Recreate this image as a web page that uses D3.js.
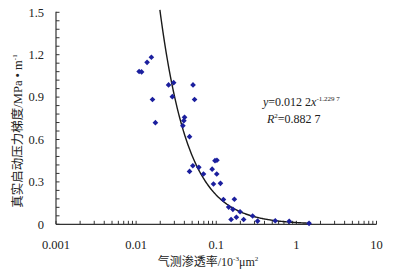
<!DOCTYPE html>
<html>
<head>
<meta charset="utf-8">
<script src="https://cdn.jsdelivr.net/npm/d3@7"></script>
<style>
    body { margin: 0; background: #fff; }
    #chart { width: 404px; height: 275px; }
    text { font-family: "Liberation Serif", "DejaVu Serif", serif; fill: #222; }
    .cjk { font-family: "Noto Sans CJK SC", sans-serif; }
</style>
</head>
<body>
<div id="chart"></div>
<script>
// gas permeability (10^-3 um^2) and true threshold pressure gradient (MPa/m)
const permeability = [0.0155, 0.0137, 0.0109, 0.0117, 0.0254, 0.0294, 0.0513, 0.0160, 0.0283, 0.0536,
    0.0174, 0.0402, 0.0394, 0.0383, 0.0464, 0.0510, 0.0606, 0.0464, 0.0693, 0.0889,
    0.0964, 0.1020, 0.1014, 0.0923, 0.1128, 0.1229, 0.1430, 0.1684, 0.1613, 0.1982,
    0.1532, 0.1783, 0.2198, 0.2844, 0.328, 0.545, 0.814, 1.44];
const gradient = [1.182, 1.146, 1.081, 1.078, 0.986, 1.002, 0.986, 0.883, 0.903, 0.883,
    0.719, 0.757, 0.733, 0.698, 0.620, 0.414, 0.403, 0.374, 0.356, 0.390,
    0.450, 0.453, 0.356, 0.285, 0.290, 0.175, 0.122, 0.177, 0.106, 0.089,
    0.034, 0.050, 0.034, 0.059, 0.023, 0.025, 0.021, 0.007];

// power-law trend line y = a * x^b as printed on the chart
const fitA = 0.0122;
const fitB = -1.2297;
const curveRange = [0.0198, 1.5];

const xTicks = [0.001, 0.01, 0.1, 1, 10];
const xTickLabels = ["0.001", "0.01", "0.1", "1", "10"];
const yTicks = [0, 0.3, 0.6, 0.9, 1.2, 1.5];
const yTickLabels = ["0", "0.3", "0.6", "0.9", "1.2", "1.5"];

const width = 404, height = 275;
const margin = {top: 12.3, right: 27.5, bottom: 50.7, left: 56};

let svg = d3.select("#chart").append("svg")
    .attr("width", width)
    .attr("height", height);

let x = d3.scaleLog()
    .domain([0.001, 10])
    .range([margin.left, width - margin.right]);

let y = d3.scaleLinear()
    .domain([0, 1.5])
    .range([height - margin.bottom, margin.top]);

const axisColor = "#333";

// x axis: baseline plus inward log ticks
let xAxis = svg.append("g").attr("class", "x-axis");
xAxis.append("line")
    .attr("x1", x(0.001)).attr("x2", x(10))
    .attr("y1", y(0)).attr("y2", y(0))
    .attr("stroke", axisColor).attr("stroke-width", 1.2);

let minorX = [];
xTicks.slice(0, -1).forEach(d => {
    for (let k = 1; k <= 9; k++) minorX.push(d * k);
});
minorX.push(10);

xAxis.selectAll(".xtick")
    .data(minorX)
    .enter().append("line")
    .attr("class", "xtick")
    .attr("x1", d => x(d)).attr("x2", d => x(d))
    .attr("y1", y(0)).attr("y2", y(0) - 3.5)
    .attr("stroke", axisColor).attr("stroke-width", 1);

xAxis.selectAll(".xlabel")
    .data(xTicks)
    .enter().append("text")
    .attr("class", "xlabel")
    .attr("x", d => x(d))
    .attr("y", y(0) + 25)
    .attr("text-anchor", "middle")
    .style("font-size", "12.5px")
    .text((d, i) => xTickLabels[i]);

// y axis: line, inward ticks every 0.06
let yAxis = svg.append("g").attr("class", "y-axis");
yAxis.append("line")
    .attr("x1", x(0.001)).attr("x2", x(0.001))
    .attr("y1", y(0)).attr("y2", y(1.5) - 0.5)
    .attr("stroke", axisColor).attr("stroke-width", 1.2);

yAxis.selectAll(".ytick")
    .data(d3.range(0, 26).map(i => i * 0.06))
    .enter().append("line")
    .attr("class", "ytick")
    .attr("x1", x(0.001)).attr("x2", x(0.001) + 3.5)
    .attr("y1", d => y(d)).attr("y2", d => y(d))
    .attr("stroke", axisColor).attr("stroke-width", 1);

yAxis.selectAll(".ylabel")
    .data(yTicks)
    .enter().append("text")
    .attr("class", "ylabel")
    .attr("x", x(0.001) - 12)
    .attr("y", d => y(d))
    .attr("dy", "0.35em")
    .attr("text-anchor", "end")
    .style("font-size", "12.5px")
    .text((d, i) => yTickLabels[i]);

// trend curve
let curvePts = d3.range(0, 201).map(i => {
    let lx = Math.log10(curveRange[0]) + i / 200 * (Math.log10(curveRange[1]) - Math.log10(curveRange[0]));
    let xv = Math.pow(10, lx);
    return [xv, fitA * Math.pow(xv, fitB)];
});

svg.append("path")
    .datum(curvePts)
    .attr("fill", "none")
    .attr("stroke", "#1a1a1a")
    .attr("stroke-width", 1.4)
    .attr("d", d3.line().x(d => x(d[0])).y(d => y(d[1])));

// scatter points (diamonds)
let diamond = d3.symbol().type(d3.symbolSquare).size(16);
svg.append("g")
    .selectAll("path")
    .data(permeability.map((p, i) => ({p: p, g: gradient[i]})))
    .enter().append("path")
    .attr("d", diamond)
    .attr("transform", d => `translate(${x(d.p)},${y(d.g)}) rotate(45)`)
    .attr("fill", "#1b1f9e");

// equation text
let eq = svg.append("text")
    .attr("x", 263)
    .attr("y", 106)
    .style("font-size", "12px");
eq.append("tspan").style("font-style", "italic").text("y");
eq.append("tspan").text("=0.012 2");
eq.append("tspan").style("font-style", "italic").text("x");
eq.append("tspan").attr("dy", -5).style("font-size", "7px").text("-1.229 7");

let r2 = svg.append("text")
    .attr("x", 267)
    .attr("y", 123)
    .style("font-size", "12px");
r2.append("tspan").style("font-style", "italic").text("R");
r2.append("tspan").attr("dy", -5).style("font-size", "7px").text("2");
r2.append("tspan").attr("dy", 5).text("=0.882 7");

// axis titles
let xTitle = svg.append("text")
    .attr("x", 208)
    .attr("y", 266)
    .attr("text-anchor", "middle")
    .style("font-size", "12px");
xTitle.append("tspan").attr("class", "cjk").text("气测渗透率");
xTitle.append("tspan").text("/10");
xTitle.append("tspan").attr("dy", -5).style("font-size", "7px").text("-3");
xTitle.append("tspan").attr("dy", 5).text("μm");
xTitle.append("tspan").attr("dy", -5).style("font-size", "7px").text("2");

let yTitle = svg.append("text")
    .attr("transform", "translate(22,131) rotate(-90)")
    .attr("text-anchor", "middle")
    .style("font-size", "12.5px");
yTitle.append("tspan").attr("class", "cjk").text("真实启动压力梯度");
yTitle.append("tspan").text("/MPa • m");
yTitle.append("tspan").attr("dy", -5).style("font-size", "7px").text("-1");
</script>
</body>
</html>
